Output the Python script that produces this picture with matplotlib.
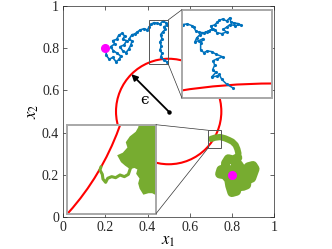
import numpy as np
import matplotlib
matplotlib.use("Agg")
import matplotlib.pyplot as plt
from matplotlib.patches import Rectangle, Circle, ConnectionPatch

plt.rcParams['font.family'] = ['Liberation Serif', 'DejaVu Serif']
plt.rcParams['mathtext.fontset'] = 'stix'

# ---- data ----
ticks = [0, 0.2, 0.4, 0.6, 0.8, 1]
tick_labels = ['0', '0.2', '0.4', '0.6', '0.8', '1']
circle_center = (0.5, 0.5)
circle_radius = 0.25
start_points_x = [0.2, 0.8]
start_points_y = [0.8, 0.2]
arrow_tip = (0.323, 0.677)

blue_x = [0.2057, 0.2025, 0.2183, 0.2341, 0.2500, 0.2658, 0.2721, 0.2563, 0.2373, 0.2246,
          0.2436, 0.2341, 0.2531, 0.2626, 0.2784, 0.2911, 0.2816, 0.3006, 0.2879, 0.2689,
          0.2816, 0.2974, 0.3101, 0.3196, 0.3259, 0.3132, 0.3259, 0.3385, 0.3512, 0.3639,
          0.3828, 0.3987, 0.4082, 0.4176, 0.4303, 0.4461, 0.4588, 0.4714, 0.4873, 0.4936,
          0.4778, 0.4841, 0.4714, 0.4619, 0.4683, 0.4588, 0.4651, 0.4588, 0.4683, 0.4619,
          0.4778, 0.4936]
blue_y = [0.7946, 0.7677, 0.7472, 0.7566, 0.7361, 0.7472, 0.7630, 0.7756, 0.7882, 0.8072,
          0.8198, 0.8356, 0.8420, 0.8609, 0.8704, 0.8578, 0.8420, 0.8356, 0.8151, 0.8072,
          0.7882, 0.7788, 0.7946, 0.8135, 0.8325, 0.8451, 0.8641, 0.8672, 0.8767, 0.8862,
          0.8925, 0.8862, 0.9020, 0.9146, 0.9210, 0.9178, 0.9146, 0.9273, 0.9210, 0.9083,
          0.9020, 0.8894, 0.8767, 0.8641, 0.8451, 0.8293, 0.8104, 0.7914, 0.7756, 0.7566,
          0.7440, 0.7345]

blue_zoom_x = [0.4087, 0.4133, 0.4177, 0.4200, 0.4217, 0.4253, 0.4300, 0.4353, 0.4387, 0.4367,
               0.4407, 0.4433, 0.4453, 0.4487, 0.4527, 0.4560, 0.4567, 0.4600, 0.4643, 0.4667,
               0.4610, 0.4560, 0.4527, 0.4493, 0.4527, 0.4477, 0.4433, 0.4410, 0.4377, 0.4327,
               0.4260, 0.4227, 0.4210, 0.4253, 0.4293, 0.4267, 0.4267, 0.4300, 0.4333, 0.4377,
               0.4420, 0.4487, 0.4433, 0.4393, 0.4407, 0.4387, 0.4420, 0.4377, 0.4433, 0.4453,
               0.4477, 0.4527, 0.4593]
blue_zoom_y = [0.9002, 0.9018, 0.8977, 0.8927, 0.8844, 0.8803, 0.8794, 0.8844, 0.8894, 0.8960,
               0.8994, 0.9060, 0.9110, 0.9143, 0.9093, 0.9176, 0.9077, 0.9043, 0.9027, 0.8994,
               0.8977, 0.9002, 0.8936, 0.8877, 0.8811, 0.8770, 0.8794, 0.8852, 0.8877, 0.8811,
               0.8745, 0.8662, 0.8562, 0.8595, 0.8645, 0.8520, 0.8355, 0.8288, 0.8330, 0.8313,
               0.8247, 0.8180, 0.8130, 0.8081, 0.7964, 0.7848, 0.7782, 0.7666, 0.7690, 0.7732,
               0.7608, 0.7483, 0.7383]

green_arc_x = [0.701, 0.720, 0.744, 0.767, 0.786, 0.802, 0.818, 0.826, 0.831, 0.828]
green_arc_y = [0.370, 0.376, 0.379, 0.373, 0.365, 0.357, 0.341, 0.322, 0.302, 0.281]
green_blob_x = [0.828, 0.807, 0.783, 0.770, 0.772, 0.748, 0.742, 0.766, 0.785, 0.790,
                0.800, 0.822, 0.830, 0.846, 0.852, 0.870, 0.872, 0.894, 0.910, 0.900,
                0.878, 0.860, 0.843, 0.831, 0.815, 0.800, 0.823, 0.839, 0.815, 0.800]
green_blob_y = [0.281, 0.270, 0.276, 0.255, 0.232, 0.224, 0.204, 0.200, 0.178, 0.148,
                0.116, 0.122, 0.152, 0.168, 0.145, 0.152, 0.176, 0.184, 0.228, 0.244,
                0.238, 0.214, 0.232, 0.250, 0.238, 0.215, 0.199, 0.191, 0.160, 0.200]

green_zoom_fill_x = [0.7538, 0.7760, 0.7760, 0.7671, 0.7628, 0.7578, 0.7542, 0.7527, 0.7542, 0.7506,
                     0.7520, 0.7477, 0.7434, 0.7383, 0.7340, 0.7304, 0.7358, 0.7412, 0.7394, 0.7434,
                     0.7498, 0.7527]
green_zoom_fill_y = [0.4100, 0.4100, 0.3385, 0.3426, 0.3426, 0.3413, 0.3465, 0.3513, 0.3562, 0.3607,
                     0.3652, 0.3671, 0.3658, 0.3690, 0.3723, 0.3781, 0.3803, 0.3858, 0.3909, 0.3961,
                     0.4006, 0.4051]
green_zoom_x = [0.7434, 0.7412, 0.7369, 0.7322, 0.7275, 0.7232, 0.7189, 0.7167, 0.7138, 0.7131,
                0.7106, 0.7117]
green_zoom_y = [0.3658, 0.3600, 0.3578, 0.3594, 0.3568, 0.3578, 0.3562, 0.3523, 0.3555, 0.3600,
                0.3642, 0.3674]

blue_box = (0.408, 0.725, 0.498, 0.934)
blue_zoom_lim = (0.408, 0.498, 0.713, 0.938)
green_box = (0.688, 0.328, 0.748, 0.411)
green_zoom_lim = (0.675, 0.771, 0.322, 0.408)

BLUE = '#0072BD'
GREEN = '#77AC30'
RED = '#FF0000'
MAG = '#FF00FF'
AX_GREY = '#262626'

fig = plt.figure(figsize=(3.32, 2.49), dpi=100)
ax = fig.add_axes([0.1908, 0.1285, 0.6345, 0.8474])

ax.add_patch(Circle(circle_center, circle_radius, fill=False, color=RED, lw=1.5, zorder=3))
ax.plot(blue_x, blue_y, color=BLUE, lw=1.2, marker='.', ms=2.5, zorder=4)
ax.plot(green_arc_x, green_arc_y, color=GREEN, lw=4.5, solid_capstyle='round',
        solid_joinstyle='round', zorder=4)
ax.plot(green_blob_x, green_blob_y, color=GREEN, lw=6.5, solid_capstyle='round',
        solid_joinstyle='round', zorder=4)
ax.plot(start_points_x, start_points_y, 'o', color=MAG, ms=5.5, zorder=6)

ax.annotate('', xy=arrow_tip, xytext=circle_center,
            arrowprops=dict(arrowstyle='-|>', color='black', lw=1.3,
                            mutation_scale=9, shrinkA=0, shrinkB=0), zorder=5)
ax.plot([circle_center[0]], [circle_center[1]], 'o', color='black', ms=2.2, zorder=5)
ax.text(0.385, 0.555, '\u03f5', fontsize=11, ha='center', va='center',
        family=['DejaVu Serif'])

for (x0, y0, x1, y1) in [blue_box, green_box]:
    ax.add_patch(Rectangle((x0, y0), x1 - x0, y1 - y0, fill=False,
                           edgecolor='#555555', lw=0.7, zorder=5))

ax.set_xlim(0, 1)
ax.set_ylim(0, 1)
ax.set_xticks(ticks)
ax.set_yticks(ticks)
ax.set_xticklabels(tick_labels)
ax.set_yticklabels(tick_labels)
ax.tick_params(direction='in', length=3, width=0.5, top=True, right=True,
               labelsize=10, colors=AX_GREY, pad=3)
for s in ax.spines.values():
    s.set_linewidth(0.5)
    s.set_color(AX_GREY)
ax.set_xlabel(r'$x_1$', fontsize=12, labelpad=-1)
ax.set_ylabel(r'$x_2$', fontsize=12, labelpad=1)

# blue inset
ax_b = fig.add_axes([0.548, 0.6064, 0.271, 0.3546])
ax_b.add_patch(Circle(circle_center, circle_radius, fill=False, color=RED, lw=1.5))
ax_b.plot(blue_zoom_x, blue_zoom_y, color=BLUE, lw=1.1, marker='.', ms=2.5)
ax_b.set_xlim(blue_zoom_lim[0], blue_zoom_lim[1])
ax_b.set_ylim(blue_zoom_lim[2], blue_zoom_lim[3])

# green inset
ax_g = fig.add_axes([0.2018, 0.1418, 0.268, 0.3574])
ax_g.add_patch(Circle(circle_center, circle_radius, fill=False, color=RED, lw=1.5))
ax_g.fill(green_zoom_fill_x, green_zoom_fill_y, color=GREEN, lw=1.2, ec=GREEN)
ax_g.plot(green_zoom_x, green_zoom_y, color=GREEN, lw=2.2, solid_capstyle='round')
ax_g.set_xlim(green_zoom_lim[0], green_zoom_lim[1])
ax_g.set_ylim(green_zoom_lim[2], green_zoom_lim[3])

for a in (ax_b, ax_g):
    a.set_xticks([])
    a.set_yticks([])
    a.set_facecolor('white')
    for s in a.spines.values():
        s.set_color('#a8a8a8')
        s.set_linewidth(1.4)

# connectors
conns = [((blue_box[2], blue_box[3]), (0, 1), ax_b),
         ((blue_box[2], blue_box[1]), (0, 0), ax_b),
         ((green_box[0], green_box[3]), (1, 1), ax_g),
         ((green_box[0], green_box[1]), (1, 0), ax_g)]
for p_main, p_in, a in conns:
    cp = ConnectionPatch(xyA=p_main, coordsA=ax.transData, xyB=p_in, coordsB=a.transAxes,
                         color='#333333', lw=0.5, zorder=1)
    fig.add_artist(cp)

fig.savefig('out.png', dpi=100)
